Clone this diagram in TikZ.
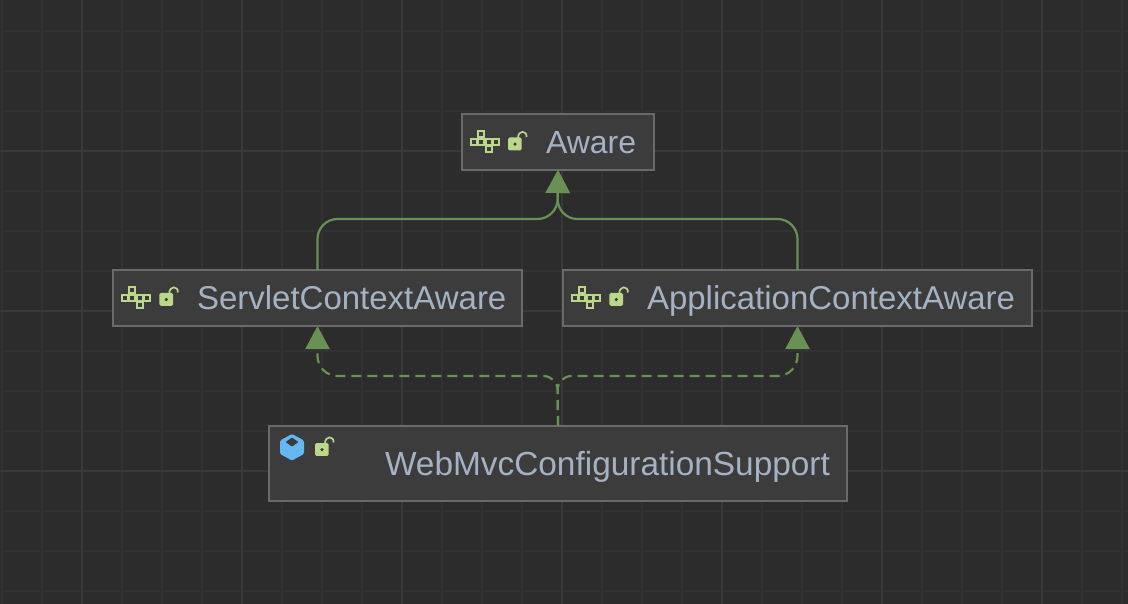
\documentclass[tikz,border=0pt]{standalone}
\usepackage{fontspec}
\setmainfont{Liberation Sans}
\usetikzlibrary{arrows.meta,calc}
\definecolor{bgc}{HTML}{2C2C2C}
\definecolor{gridminor}{HTML}{323232}
\definecolor{gridmajor}{HTML}{393939}
\definecolor{boxfill}{HTML}{3C3C3C}
\definecolor{boxline}{HTML}{6A6A6A}
\definecolor{txt}{HTML}{A5B2C3}
\definecolor{edgec}{HTML}{6A9155}
\definecolor{iconc}{HTML}{BBD88A}
\definecolor{cubec}{HTML}{65B8F2}
\tikzset{
  x=1pt,y=-1pt,
  classbox/.style={draw=boxline,line width=2pt,fill=boxfill,rectangle,inner sep=0pt,outer sep=0pt},
  classname/.style={anchor=base west,inner sep=0pt,outer sep=0pt,text=txt,font=\fontsize{#1}{38}\selectfont},
  inherit/.style={draw=edgec,line width=2.2pt,rounded corners=20pt,-{Triangle[length=23pt,width=24pt,fill=edgec]}},
  realize/.style={inherit,dash pattern=on 10pt off 6pt},
  ifaceicon/.pic={
    \foreach \cx/\cy in {7.5/0,0/7.5,7.5/7.5,15/7.5,22.5/7.5,15/15}{
      \draw[draw=iconc,fill=boxfill,line width=2pt] (0.9+\cx,0.9+\cy) rectangle (6.6+\cx,6.6+\cy);
    }
  },
  lockicon/.pic={
    \fill[iconc,rounded corners=1.5pt] (0,0) rectangle (13.7,12.8);
    \fill[boxfill] (7,6.6) circle (1.8);
    \draw[iconc,line width=1.7pt] (10,0.5) .. controls (10,-7.5) and (19,-7.5) .. (18.6,-0.5);
  },
  cubeicon/.pic={
    \fill[cubec,rounded corners=1.5pt] (12,0) -- (24,6.5) -- (24,20) -- (12,26.5) -- (0,20) -- (0,6.5) -- cycle;
    \fill[boxfill,rounded corners=0.8pt] (12,3.5) -- (18.4,8) -- (12,12.7) -- (5.6,8) -- cycle;
  }
}
\begin{document}
\begin{tikzpicture}
\useasboundingbox (0,0) rectangle (1128,604);
\fill[bgc] (0,0) rectangle (1128,604);
\foreach \gx in {2,42,...,1122}{\draw[gridminor,line width=2pt] (\gx,0) -- (\gx,604);}
\foreach \gy in {31,71,...,591}{\draw[gridminor,line width=2pt] (0,\gy) -- (1128,\gy);}
\foreach \gx in {82,242,...,1042}{\draw[gridmajor,line width=2pt] (\gx,0) -- (\gx,604);}
\foreach \gy in {151,311,471}{\draw[gridmajor,line width=2pt] (0,\gy) -- (1128,\gy);}

\node[classbox,minimum width=192pt,minimum height=56pt] (aware) at (558,142) {};
\node[classbox,minimum width=409pt,minimum height=56pt] (servlet) at (317.5,298) {};
\node[classbox,minimum width=469pt,minimum height=56pt] (appctx) at (797.5,298) {};
\node[classbox,minimum width=578pt,minimum height=75pt] (webmvc) at (558,463.5) {};

\node[classname=32] (awaretext) at (546,153.6) {Aware};
\node[classname=33] (servlettext) at (197,309.5) {ServletContextAware};
\node[classname=33] (appctxtext) at (647,309.5) {ApplicationContextAware};
\node[classname=33.4] (webmvctext) at (385,475.6) {WebMvcConfigurationSupport};

\pic at (470,130.5) {ifaceicon};
\pic at (508,137.5) {lockicon};
\pic at (121,286.5) {ifaceicon};
\pic at (159.3,293) {lockicon};
\pic at (571,286.5) {ifaceicon};
\pic at (609.3,293) {lockicon};
\pic at (280,434) {cubeicon};
\pic at (315,443) {lockicon};

\coordinate (upper) at (557.5,219);
\coordinate (lower) at (557.5,376);
\draw[inherit] (servlet.north) |- (upper) [rounded corners=14pt] -- (aware.south);
\draw[inherit] (appctx.north) |- (upper) [rounded corners=14pt] -- (aware.south);
\draw[realize] (webmvc.north) [rounded corners=14pt] -- (lower) [rounded corners=20pt] -| (servlet.south);
\draw[realize] (webmvc.north) [rounded corners=14pt] -- (lower) [rounded corners=20pt] -| (appctx.south);
\end{tikzpicture}
\end{document}
